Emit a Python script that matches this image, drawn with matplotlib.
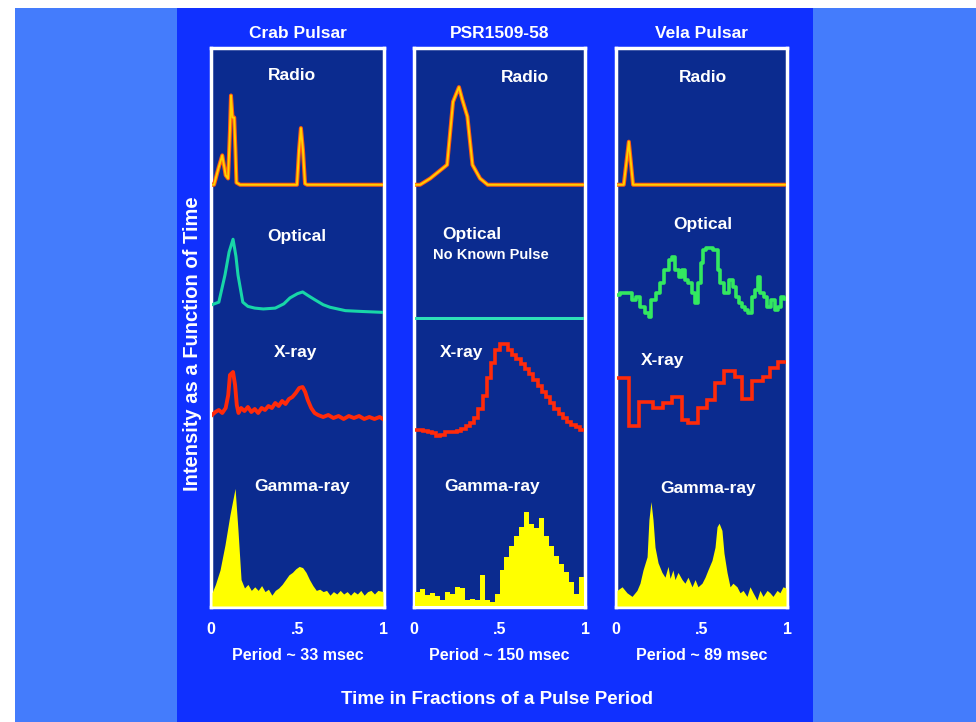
import numpy as np
import matplotlib.pyplot as plt
from matplotlib.patches import Rectangle

# ---- data: pulse profiles, phase (0..1) vs relative intensity ----
# Crab pulsar
crab_radio_phase = [0.0, 0.012, 0.04, 0.06, 0.08, 0.094, 0.105, 0.111, 0.12, 0.13, 0.137,
                    0.143, 0.164, 0.497, 0.509, 0.52, 0.532, 0.544, 0.556, 1.0]
crab_radio = [0.05, 0.05, 0.22, 0.33, 0.14, 0.11, 0.57, 0.90, 0.69, 0.69, 0.38,
              0.07, 0.05, 0.05, 0.38, 0.59, 0.38, 0.06, 0.05, 0.05]

crab_opt_phase = [0.0, 0.04, 0.076, 0.10, 0.123, 0.14, 0.152, 0.18, 0.21, 0.25, 0.30, 0.37,
                  0.42, 0.456, 0.50, 0.53, 0.56, 0.60, 0.65, 0.69, 0.78, 0.88, 1.0]
crab_opt = [0.18, 0.21, 0.53, 0.80, 0.95, 0.75, 0.53, 0.21, 0.16, 0.14, 0.13, 0.14,
            0.19, 0.26, 0.31, 0.33, 0.29, 0.24, 0.18, 0.15, 0.11, 0.10, 0.09]

crab_xray_phase = [0.0, 0.02, 0.04, 0.06, 0.08, 0.095, 0.105, 0.123, 0.135, 0.145, 0.155, 0.17,
                   0.19, 0.21, 0.23, 0.25, 0.27, 0.29, 0.31, 0.33, 0.35, 0.37, 0.39, 0.41,
                   0.43, 0.45, 0.47, 0.49, 0.51, 0.53, 0.545, 0.56, 0.58, 0.60, 0.62, 0.65,
                   0.68, 0.71, 0.74, 0.77, 0.80, 0.83, 0.86, 0.89, 0.92, 0.95, 0.98, 1.0]
crab_xray = [0.25, 0.28, 0.30, 0.27, 0.32, 0.45, 0.65, 0.68, 0.55, 0.35, 0.27, 0.32,
             0.29, 0.33, 0.28, 0.31, 0.27, 0.32, 0.30, 0.34, 0.32, 0.37, 0.34, 0.39,
             0.36, 0.41, 0.43, 0.47, 0.52, 0.53, 0.48, 0.40, 0.32, 0.27, 0.25, 0.23,
             0.25, 0.22, 0.24, 0.21, 0.24, 0.22, 0.24, 0.21, 0.23, 0.21, 0.23, 0.21]

crab_gamma_phase = [0.0, 0.02, 0.047, 0.076, 0.105, 0.135, 0.152, 0.17, 0.19, 0.21, 0.23, 0.25,
                    0.27, 0.29, 0.31, 0.33, 0.35, 0.37, 0.39, 0.41, 0.43, 0.45, 0.47, 0.49,
                    0.51, 0.53, 0.55, 0.57, 0.59, 0.61, 0.63, 0.65, 0.67, 0.69, 0.71, 0.73,
                    0.75, 0.77, 0.79, 0.81, 0.83, 0.85, 0.87, 0.89, 0.91, 0.93, 0.95, 0.97, 1.0]
crab_gamma = [0.11, 0.18, 0.30, 0.51, 0.76, 0.98, 0.63, 0.22, 0.15, 0.18, 0.13, 0.16,
              0.13, 0.17, 0.12, 0.14, 0.09, 0.13, 0.15, 0.18, 0.22, 0.26, 0.28, 0.31,
              0.33, 0.32, 0.28, 0.22, 0.17, 0.13, 0.14, 0.12, 0.13, 0.09, 0.12, 0.10,
              0.13, 0.10, 0.12, 0.09, 0.12, 0.10, 0.13, 0.09, 0.12, 0.13, 0.10, 0.13, 0.12]

# PSR 1509-58
psr_radio_phase = [0.0, 0.03, 0.09, 0.19, 0.225, 0.26, 0.28, 0.31, 0.34, 0.385, 0.43, 1.0]
psr_radio = [0.05, 0.05, 0.11, 0.24, 0.84, 0.98, 0.86, 0.70, 0.24, 0.11, 0.05, 0.05]

psr_opt_phase = [0.0, 1.0]
psr_opt = [0.02, 0.02]

psr_xray = [0.10, 0.10, 0.09, 0.08, 0.07, 0.04, 0.05, 0.08, 0.08, 0.08,
            0.09, 0.11, 0.14, 0.17, 0.22, 0.31, 0.44, 0.62, 0.77, 0.90,
            0.96, 0.96, 0.90, 0.85, 0.81, 0.76, 0.71, 0.66, 0.60, 0.54,
            0.48, 0.43, 0.37, 0.31, 0.26, 0.22, 0.18, 0.15, 0.13, 0.10]

psr_gamma = [0.12, 0.14, 0.09, 0.11, 0.08, 0.05, 0.12, 0.10, 0.16, 0.15, 0.05, 0.06,
             0.05, 0.26, 0.05, 0.03, 0.10, 0.30, 0.41, 0.50, 0.58, 0.66, 0.78, 0.68,
             0.65, 0.73, 0.58, 0.50, 0.42, 0.35, 0.28, 0.20, 0.10, 0.24]

# Vela pulsar
vela_radio_phase = [0.0, 0.04, 0.07, 0.095, 1.0]
vela_radio = [0.05, 0.05, 0.46, 0.05, 0.05]

vela_opt_phase = [0.0, 0.030, 0.077, 0.095, 0.124, 0.154, 0.178, 0.195, 0.213, 0.243, 0.266,
                  0.296, 0.314, 0.331, 0.355, 0.373, 0.391, 0.414, 0.432, 0.450, 0.473,
                  0.491, 0.503, 0.509, 0.550, 0.592, 0.598, 0.621, 0.651, 0.680, 0.698,
                  0.710, 0.728, 0.746, 0.769, 0.787, 0.805, 0.828, 0.840, 0.858, 0.876,
                  0.905, 0.923, 0.947, 0.964, 0.982, 1.0]
vela_opt = [0.30, 0.32, 0.32, 0.24, 0.27, 0.15, 0.08, 0.04, 0.24, 0.32, 0.44,
            0.59, 0.71, 0.74, 0.59, 0.51, 0.59, 0.47, 0.44, 0.32, 0.20,
            0.44, 0.67, 0.82, 0.85, 0.82, 0.59, 0.44, 0.32, 0.47, 0.39,
            0.27, 0.20, 0.15, 0.12, 0.08, 0.27, 0.35, 0.51, 0.32, 0.27,
            0.15, 0.24, 0.12, 0.15, 0.27, 0.25]

vela_xray_edges = [0.0, 0.071, 0.13, 0.213, 0.272, 0.325, 0.385, 0.42, 0.479, 0.533,
                   0.58, 0.633, 0.698, 0.74, 0.799, 0.864, 0.905, 0.953, 1.0]
vela_xray = [0.62, 0.14, 0.38, 0.32, 0.37, 0.43, 0.20, 0.17, 0.32, 0.40,
             0.57, 0.69, 0.63, 0.41, 0.59, 0.63, 0.72, 0.78]

vela_gamma_phase = [0.0, 0.030, 0.059, 0.089, 0.118, 0.136, 0.154, 0.178, 0.189, 0.201, 0.213,
                    0.225, 0.243, 0.266, 0.284, 0.302, 0.314, 0.331, 0.343, 0.361, 0.385,
                    0.402, 0.420, 0.444, 0.462, 0.479, 0.503, 0.521, 0.538, 0.562, 0.580,
                    0.592, 0.604, 0.621, 0.633, 0.651, 0.669, 0.686, 0.710, 0.728, 0.746,
                    0.769, 0.787, 0.805, 0.828, 0.846, 0.864, 0.888, 0.905, 0.923, 0.947,
                    0.964, 0.982, 1.0]
vela_gamma = [0.13, 0.16, 0.11, 0.08, 0.13, 0.19, 0.30, 0.41, 0.72, 0.87, 0.72,
              0.49, 0.36, 0.28, 0.24, 0.33, 0.23, 0.30, 0.22, 0.28, 0.22,
              0.19, 0.24, 0.16, 0.22, 0.16, 0.19, 0.24, 0.30, 0.38, 0.49,
              0.66, 0.69, 0.63, 0.44, 0.28, 0.16, 0.19, 0.16, 0.11, 0.13,
              0.08, 0.16, 0.11, 0.05, 0.13, 0.08, 0.13, 0.11, 0.08, 0.13,
              0.11, 0.16, 0.15]

pulsars = ['Crab Pulsar', 'PSR1509-58', 'Vela Pulsar']
periods = ['Period ~ 33 msec', 'Period ~ 150 msec', 'Period ~ 89 msec']
tick_labels = ['0', '.5', '1']

# ---- layout (pixels of a 976x722 image) ----
W, H = 976, 722
FONT = 'Liberation Sans'

def box(x0, y0, x1, y1):
    return [x0 / W, 1 - y1 / H, (x1 - x0) / W, (y1 - y0) / H]

def label(x, y, s, size=12.5, **kw):
    fig.text(x / W, 1 - y / H, s, ha='center', va='center', color='white',
             fontweight='bold', fontfamily=FONT, fontsize=size, **kw)

fig = plt.figure(figsize=(W / 100, H / 100), dpi=100, facecolor='white')
fig.add_artist(Rectangle((15 / W, 0), 1, 1 - 8 / H, transform=fig.transFigure,
                         facecolor='#447cfc', edgecolor='none', zorder=-3))
fig.add_artist(Rectangle((177 / W, 0), (813 - 177) / W, 1 - 8 / H, transform=fig.transFigure,
                         facecolor='#1030ff', edgecolor='none', zorder=-2))

panel_x = [(212, 383), (415, 584), (617, 786)]
panel_top, panel_bot = 48, 607
# band: (pixel of zero level, pixel of unit level)
bands = {'radio': (190, 85), 'optical': (320, 235), 'xray': (440, 340), 'gamma': (606, 486)}

def band_ax(x0, x1, name):
    y0, y1 = bands[name]
    a = fig.add_axes(box(x0, y1, x1, y0))
    a.set_xlim(0, 1)
    a.set_ylim(0, 1)
    a.axis('off')
    a.patch.set_alpha(0)
    return a

for i, (x0, x1) in enumerate(panel_x):
    ax = fig.add_axes(box(x0 - 1, panel_top, x1 + 1, panel_bot))
    ax.set_facecolor('#0b2b8f')
    ax.set_xlim(0, 1)
    ax.set_ylim(0, 1)
    ax.set_yticks([])
    ax.set_xticks([0, 0.5, 1], tick_labels)
    ax.tick_params(axis='x', length=0, pad=11, labelcolor='white', labelsize=11.5)
    for t in ax.get_xticklabels():
        t.set_fontweight('bold')
        t.set_fontfamily(FONT)
    for s in ax.spines.values():
        s.set_color('white')
        s.set_linewidth(2.5)
    cx = (x0 + x1) / 2
    label(cx, 34, pulsars[i], size=12.5)
    label(cx, 655, periods[i], size=11.5)

# radio (yellow with orange rim)
for (x0, x1), ph, v in zip(panel_x, [crab_radio_phase, psr_radio_phase, vela_radio_phase],
                           [crab_radio, psr_radio, vela_radio]):
    a = band_ax(x0, x1, 'radio')
    a.plot(ph, v, color='#ff5a10', lw=2.9, solid_joinstyle='round')
    a.plot(ph, v, color='#ffd000', lw=1.4, solid_joinstyle='round')

# optical
a = band_ax(*panel_x[0], 'optical')
a.plot(crab_opt_phase, crab_opt, color='#18d6a8', lw=2.2)
a = band_ax(*panel_x[1], 'optical')
a.plot(psr_opt_phase, psr_opt, color='#2ee0b8', lw=2.2)
a = band_ax(*panel_x[2], 'optical')
a.plot(vela_opt_phase, vela_opt, color='#33e860', lw=2.6, drawstyle='steps-mid')

# x-ray
a = band_ax(*panel_x[0], 'xray')
a.plot(crab_xray_phase, crab_xray, color='#ff2a0a', lw=2.8)
a = band_ax(*panel_x[1], 'xray')
a.stairs(psr_xray, np.linspace(0, 1, len(psr_xray) + 1), color='#ff2a0a', lw=2.6, baseline=None)
a = band_ax(*panel_x[2], 'xray')
a.stairs(vela_xray, vela_xray_edges, color='#ff2a0a', lw=2.6, baseline=None)

# gamma-ray (filled)
a = band_ax(*panel_x[0], 'gamma')
a.fill_between(crab_gamma_phase, crab_gamma, 0, color='#ffff00', lw=0)
a = band_ax(*panel_x[1], 'gamma')
a.stairs(psr_gamma, np.linspace(0, 1, len(psr_gamma) + 1), fill=True, color='#ffff00')
a = band_ax(*panel_x[2], 'gamma')
a.fill_between(vela_gamma_phase, vela_gamma, 0, color='#ffff00', lw=0)

# band names
label(292, 76, 'Radio'); label(525, 78, 'Radio'); label(703, 78, 'Radio')
label(297, 236, 'Optical'); label(472, 235, 'Optical'); label(703, 225, 'Optical')
label(491, 255, 'No Known Pulse', size=10.5)
label(296, 352, 'X-ray'); label(462, 352, 'X-ray'); label(663, 361, 'X-ray')
label(302, 486, 'Gamma-ray'); label(492, 486, 'Gamma-ray'); label(708, 488, 'Gamma-ray')

label(192, 344, 'Intensity as a Function of Time', size=14.5, rotation=90)
label(497, 699, 'Time in Fractions of a Pulse Period', size=13.5)

fig.savefig('out.png', dpi=100, facecolor=fig.get_facecolor())
